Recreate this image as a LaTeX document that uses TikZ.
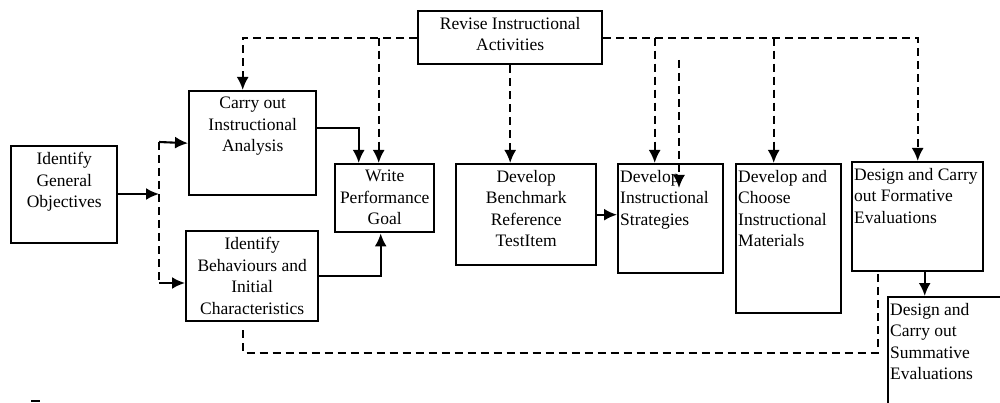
\documentclass[tikz,border=0pt]{standalone}
\usepackage{fontspec}
\setmainfont{Liberation Serif}
\usetikzlibrary{arrows.meta}

\tikzset{
  box/.style={draw, line width=2.4pt, anchor=north west, inner sep=0pt},
  lbl/.style={anchor=north, align=center, inner sep=0pt, yshift=-7pt},
  lbll/.style={anchor=north west, align=left, inner sep=0pt, xshift=3pt, yshift=-7pt},
  dsh/.style={line width=2.1pt, dash pattern=on 8pt off 5pt},
  sol/.style={line width=2.1pt},
}

\begin{document}
\begin{tikzpicture}[x=1pt, y=-1pt, >={Latex[length=13pt,width=12pt]},
  font=\fontsize{17.5}{21.5}\selectfont]
  \useasboundingbox (0,0) rectangle (1000,403);
  \clip (0,0) rectangle (1000,403);

  % boxes
  \node[box, minimum width=106pt, minimum height=97pt,
        label={[lbl]north:Identify\\General\\Objectives}] (igo) at (10,145) {};
  \node[box, minimum width=127pt, minimum height=104pt,
        label={[lbl]north:Carry out\\Instructional\\Analysis}] (coa) at (188,90) {};
  \node[box, minimum width=132pt, minimum height=90pt,
        label={[lbl]north:Identify\\Behaviours and\\Initial\\Characteristics}] (ibic) at (185,230) {};
  \node[box, minimum width=99pt, minimum height=68pt,
        label={[lbl]north:Write\\Performance\\Goal}] (wpg) at (334,163) {};
  \node[box, minimum width=184pt, minimum height=53pt,
        label={[lbl]north:Revise Instructional\\Activities}] (revise) at (417,10) {};
  \node[box, minimum width=140pt, minimum height=101pt,
        label={[lbl]north:Develop\\Benchmark\\Reference\\TestItem}] (dbr) at (455,163) {};
  \node[box, minimum width=105pt, minimum height=109pt,
        label={[lbll]north west:Develop\\Instructional\\Strategies}] (dis) at (617,163) {};
  \node[box, minimum width=105pt, minimum height=149pt,
        label={[lbll]north west:Develop and\\Choose\\Instructional\\Materials}] (dcm) at (735,163) {};
  \node[box, minimum width=131pt, minimum height=109pt,
        label={[lbll]north west:Design and Carry\\out Formative\\Evaluations}] (form) at (851,161) {};
  \node[box, minimum width=140pt, minimum height=130pt,
        label={[lbll]north west:Design and\\Carry out\\Summative\\Evaluations}] (sum) at (887,296) {};

  % split after the objectives
  \coordinate (split) at (159,194);
  \coordinate (brtop) at (159,142);
  \coordinate (brbot) at (159,283);
  \draw[sol, ->] (igo.east |- split) -- (split);
  \draw[dsh] (brtop) -- (brbot);
  \draw[sol, ->] (brtop) -- (coa.west);
  \draw[sol, ->] (brbot) -- (brbot -| ibic.west);

  % into the performance goal
  \draw[sol, ->] ([yshift=15pt]coa.east) -| ([xshift=-26pt]wpg.north);
  \draw[sol, ->] (ibic.east) -| ([xshift=-4pt]wpg.south);
  \draw[sol, ->] (dbr.east) -- (dbr.east -| dis.west);
  \draw[sol, ->] ([xshift=7pt]form.south) -- ([xshift=7pt]form.south |- sum.north);

  % revision loops
  \draw[dsh, ->] (revise.west) -| ([xshift=-10pt]coa.north);
  \draw[dsh, ->] ([xshift=-6pt]wpg.north |- revise.west) -- ([xshift=-6pt]wpg.north);
  \draw[dsh, ->] (revise.south) -- (revise.south |- dbr.north);
  \draw[dsh, ->] (revise.east) -| (form.north);
  \draw[dsh, ->] ([xshift=-16pt]dis.north |- revise.east) -- ([xshift=-16pt]dis.north);
  \draw[dsh, ->] ([xshift=-15pt]dcm.north |- revise.east) -- ([xshift=-15pt]dcm.north);
  \coordinate (stray) at (679,60);
  \draw[dsh, ->] (stray) -- ++(0,128);

  % feedback from the evaluations
  \coordinate (fbk) at (560,353);
  \draw[dsh] ([xshift=-9pt,yshift=-8pt]ibic.south) |- (fbk) -| ([xshift=-40pt]form.south);

  \draw[line width=2pt] (31,401) -- (40,401);
\end{tikzpicture}
\end{document}
